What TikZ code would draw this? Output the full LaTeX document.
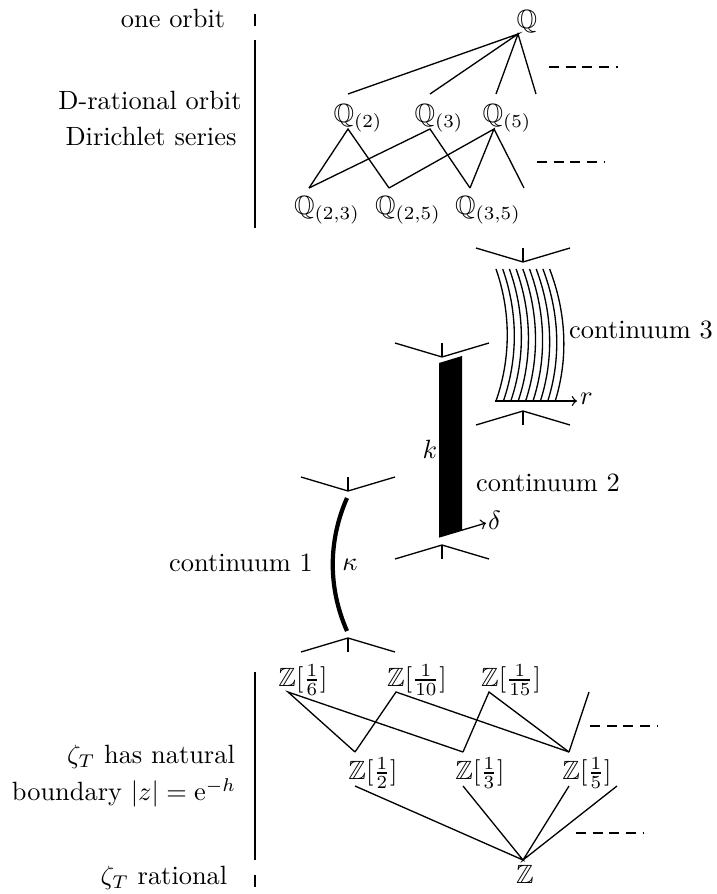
\documentclass[tikz,border=0pt]{standalone}
\usepackage{amssymb}
\begin{document}
\begin{tikzpicture}[x=0.3788pt,y=-0.3788pt,
  every node/.style={inner sep=0pt, outer sep=0pt},
  ln/.style={line width=0.5pt},
  dsh/.style={line width=0.5pt, dash pattern=on 3.8pt off 2.5pt},
  thickarc/.style={line width=1.6pt},
  hatdn/.pic={\draw[ln] (-47,-14) -- (0,0) -- (47,-14); \draw[ln] (0,-14) -- (0,0);},
  hatup/.pic={\draw[ln] (-47,14) -- (0,0) -- (47,14); \draw[ln] (0,14) -- (0,0);}]
\useasboundingbox (0,0) rectangle (717,894);

% ---------- left labels and rules ----------
\node (oneorbit) at (173,18) {one orbit};
\node (drat) at (150,100) {D-rational orbit};
\node (dirs) at (151,136) {Dirichlet series};
\node (zhas) at (151,757) {$\zeta_T$ has natural};
\node (bound) at (124,793) {boundary $|z|=\mathrm{e}^{-h}$};
\node (zrat) at (164,878) {$\zeta_T$ rational};

\coordinate (t1a) at (255,14); \coordinate (t1b) at (255,26);
\draw[ln] (t1a) -- (t1b);
\coordinate (v1a) at (255,40); \coordinate (v1b) at (255,228);
\draw[ln] (v1a) -- (v1b);
\coordinate (v2a) at (255,672); \coordinate (v2b) at (255,860);
\draw[ln] (v2a) -- (v2b);
\coordinate (t2a) at (255,875); \coordinate (t2b) at (255,887);
\draw[ln] (t2a) -- (t2b);

% ---------- top lattice ----------
\node (Q) at (527,22) {$\mathbb{Q}$};
\coordinate (qa) at (518,34);
\coordinate (u2) at (348,94); \coordinate (u3) at (430,94);
\coordinate (u5) at (496,94); \coordinate (u7) at (536,94);
\draw[ln] (u2) -- (qa) -- (u3);
\draw[ln] (u5) -- (qa) -- (u7);
\coordinate (d1a) at (549,67); \coordinate (d1b) at (618,67);
\draw[dsh] (d1a) -- (d1b);

\node (Q2) at (358,118) {$\mathbb{Q}_{(2)}$};
\node (Q3) at (439,118) {$\mathbb{Q}_{(3)}$};
\node (Q5) at (507,118) {$\mathbb{Q}_{(5)}$};
\coordinate (p2) at (348,129); \coordinate (p3) at (430,129); \coordinate (p5) at (494,129);
\coordinate (b23) at (309,188); \coordinate (b25) at (389,188);
\coordinate (b35) at (470,188); \coordinate (bx) at (524,188);
\draw[ln] (b23) -- (p2) -- (b25);
\draw[ln] (b23) -- (p3) -- (b35);
\draw[ln] (b25) -- (p5) -- (b35);
\draw[ln] (p5) -- (bx);
\coordinate (d2a) at (537,162); \coordinate (d2b) at (605,162);
\draw[dsh] (d2a) -- (d2b);
\node (Q23) at (327,210) {$\mathbb{Q}_{(2,3)}$};
\node (Q25) at (408,210) {$\mathbb{Q}_{(2,5)}$};
\node (Q35) at (488,210) {$\mathbb{Q}_{(3,5)}$};

% ---------- continuum 3 ----------
\pic at (523,262) {hatdn};
\pic at (523,411) {hatup};
\foreach \i in {0,...,8}
  \draw[ln] ({496+6.7*\i},269) .. controls ({511+6.9*\i},312) and ({511+7.2*\i},358) .. ({496+7.4*\i},401);
\coordinate (ra) at (495,401); \coordinate (rb) at (577,401);
\draw[ln,->] (ra) -- (rb);
\node[anchor=west] (r) at (580,399) {$r$};
\node (c3) at (641,330) {continuum 3};

% ---------- continuum 2 ----------
\pic at (442,357) {hatdn};
\pic at (442,545) {hatup};
\coordinate (k1) at (439,363); \coordinate (k2) at (462,356);
\coordinate (k3) at (462,530); \coordinate (k4) at (439,537);
\fill (k1) -- (k2) -- (k3) -- (k4) -- cycle;
\coordinate (dl) at (486,523);
\draw[ln,->] (k4) -- (dl);
\node[anchor=west] (delta) at (488,520) {$\delta$};
\node (k) at (430,449) {$k$};
\node (c2) at (548,483) {continuum 2};

% ---------- continuum 1 ----------
\pic at (348,491) {hatdn};
\pic at (348,638) {hatup};
\coordinate (ka) at (347,498); \coordinate (kb) at (347,631);
\draw[thickarc] (ka) .. controls (328,541) and (328,588) .. (kb);
\node (kappa) at (350,565) {$\kappa$};
\node (c1) at (241,563) {continuum 1};

% ---------- bottom lattice ----------
\node (Z6) at (303,680) {$\mathbb{Z}[\frac{1}{6}]$};
\node (Z10) at (417,680) {$\mathbb{Z}[\frac{1}{10}]$};
\node (Z15) at (511,680) {$\mathbb{Z}[\frac{1}{15}]$};
\coordinate (w6) at (288,692); \coordinate (w10) at (396,692);
\coordinate (w15) at (489,692); \coordinate (wx) at (589,692);
\coordinate (l2) at (355,752); \coordinate (l3) at (463,752); \coordinate (l5) at (569,752);
\draw[ln] (l2) -- (w6) -- (l3);
\draw[ln] (l2) -- (w10) -- (l5);
\draw[ln] (l3) -- (w15) -- (l5);
\draw[ln] (wx) -- (l5);
\coordinate (d3a) at (590,726); \coordinate (d3b) at (658,726);
\draw[dsh] (d3a) -- (d3b);

\node (Z2) at (373,773) {$\mathbb{Z}[\frac{1}{2}]$};
\node (Z3) at (480,773) {$\mathbb{Z}[\frac{1}{3}]$};
\node (Z5) at (587,773) {$\mathbb{Z}[\frac{1}{5}]$};
\coordinate (m2) at (355,786); \coordinate (m3) at (463,786);
\coordinate (m5) at (569,786); \coordinate (mx) at (617,786);
\coordinate (za) at (523,860);
\draw[ln] (m2) -- (za) -- (m3);
\draw[ln] (m5) -- (za) -- (mx);
\coordinate (d4a) at (576,833); \coordinate (d4b) at (644,833);
\draw[dsh] (d4a) -- (d4b);
\node (Z) at (525,874) {$\mathbb{Z}$};
\end{tikzpicture}
\end{document}
